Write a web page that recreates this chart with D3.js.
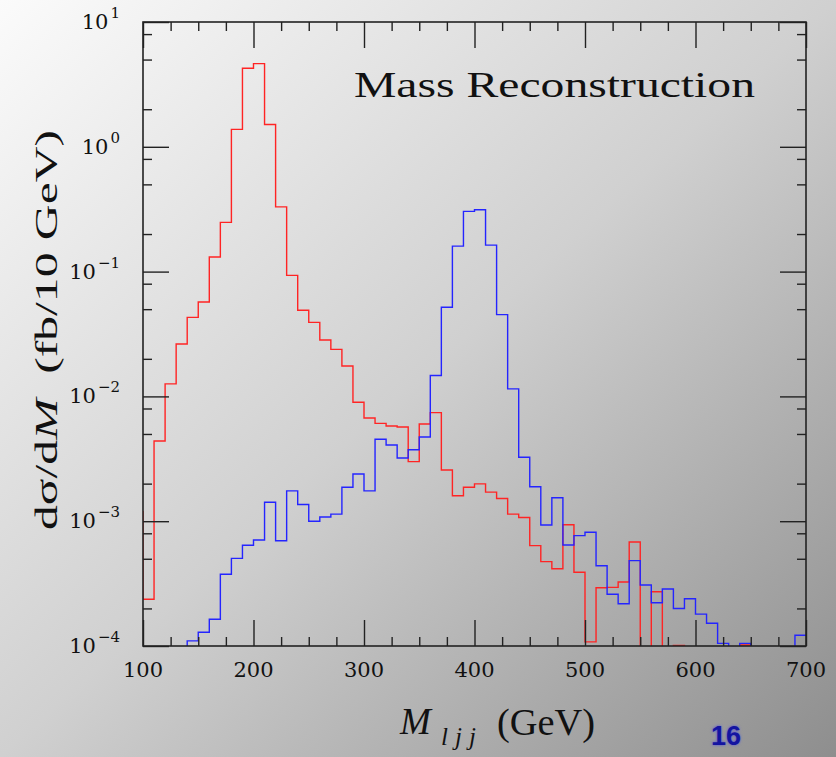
<!DOCTYPE html>
<html>
<head>
<meta charset="utf-8">
<script src="https://cdn.jsdelivr.net/npm/d3@7/dist/d3.min.js"></script>
<style>
  body { margin: 0; }
  svg { display: block; }
  text { font-family: "Liberation Serif", "DejaVu Serif", serif; fill: #111; }
  .num { font-family: "DejaVu Serif", "Liberation Serif", serif; }
</style>
</head>
<body>
<svg width="836" height="757"></svg>
<script>
// Lower edges of the 10 GeV bins (first one is the underflow bin left of the frame)
var binLow = [90, 100, 110, 120, 130, 140, 150, 160, 170, 180, 190, 200, 210, 220, 230,
  240, 250, 260, 270, 280, 290, 300, 310, 320, 330, 340, 350, 360, 370, 380, 390,
  400, 410, 420, 430, 440, 450, 460, 470, 480, 490, 500, 510, 520, 530, 540, 550,
  560, 570, 580, 590, 600, 610, 620, 630, 640, 650, 660, 670, 680, 690];

// red histogram (peak near 200 GeV)
var redValues = [1.19e-3, 2.37e-4, 4.39e-3, 1.26e-2, 2.63e-2, 4.30e-2, 5.71e-2, 0.131, 0.248,
  1.38, 4.26, 4.64, 1.51, 0.330, 0.0933, 0.0490, 0.0392, 0.0283, 0.0238, 0.0175,
  8.97e-3, 6.71e-3, 6.08e-3, 5.79e-3, 5.69e-3, 3.00e-3, 6.01e-3, 7.41e-3, 2.57e-3,
  1.60e-3, 1.87e-3, 1.99e-3, 1.71e-3, 1.52e-3, 1.14e-3, 1.07e-3, 6.37e-4, 4.74e-4,
  4.16e-4, 9.37e-4, 3.90e-4, 1.08e-4, 2.93e-4, 2.95e-4, 3.26e-4, 6.81e-4, 0,
  2.72e-4, 0, 1.01e-4, 0, 0, 0, 0, 0, 1.02e-4, 0, 0, 0, 0, 0];

// blue histogram (peak near 400 GeV)
var blueValues = [0, 0, 0, 0, 0, 1.10e-4, 1.29e-4, 1.64e-4, 3.76e-4, 5.04e-4, 6.41e-4,
  7.06e-4, 1.42e-3, 6.97e-4, 1.75e-3, 1.36e-3, 1.00e-3, 1.08e-3, 1.14e-3, 1.87e-3,
  2.39e-3, 1.75e-3, 4.53e-3, 4.08e-3, 3.21e-3, 3.74e-3, 4.73e-3, 1.47e-2, 0.0518,
  0.160, 0.304, 0.313, 0.163, 0.0452, 1.15e-2, 3.25e-3, 1.89e-3, 9.33e-4, 1.54e-3,
  6.44e-4, 7.66e-4, 8.15e-4, 4.40e-4, 2.60e-4, 2.18e-4, 4.83e-4, 3.08e-4, 2.22e-4,
  2.86e-4, 2.00e-4, 2.39e-4, 1.80e-4, 1.52e-4, 1.05e-4, 0, 1.05e-4, 0, 0, 0, 0, 1.22e-4];

var xMajorTicks = [100, 200, 300, 400, 500, 600, 700];
var xMinorTicks = [125, 150, 175, 225, 250, 275, 325, 350, 375, 425, 450, 475, 525, 550, 575, 625, 650, 675];
var yExponents = [-4, -3, -2, -1, 0, 1];
var yMinorMantissas = [2, 5, 8];

var svg = d3.select("svg");
var W = 836, H = 757;
var margin = { left: 143, top: 22 };
var width = 663, height = 624;

// page background: light top-left fading to grey bottom-right
var defs = svg.append("defs");
var grad = defs.append("linearGradient")
  .attr("id", "bg")
  .attr("x1", 0).attr("y1", 0).attr("x2", 1).attr("y2", 1);
grad.append("stop").attr("offset", 0).attr("stop-color", "#fbfbfb");
grad.append("stop").attr("offset", 0.5).attr("stop-color", "#d0d0d0");
grad.append("stop").attr("offset", 1).attr("stop-color", "#8e8e8e");

defs.append("clipPath").attr("id", "plotClip")
  .append("rect").attr("width", width).attr("height", height);

defs.append("filter").attr("id", "glow")
  .append("feGaussianBlur").attr("stdDeviation", 1.5);

svg.append("rect").attr("width", W).attr("height", H).attr("fill", "url(#bg)");

var g = svg.append("g")
  .attr("transform", "translate(" + margin.left + "," + margin.top + ")");

var x = d3.scaleLinear().domain([100, 700]).range([0, width]);
var y = d3.scaleLog().domain([1e-4, 10]).range([height, 0]);

// empty bins fall below the frame and get clipped
function yv(v) { return v > 0 ? y(v) : height + 20; }

function histPoints(values) {
  var pts = binLow.map(function(lo, i) { return [lo, values[i]]; });
  pts.push([binLow[binLow.length - 1] + 10, values[values.length - 1]]);
  return pts;
}

var line = d3.line()
  .x(function(d) { return x(d[0]); })
  .y(function(d) { return yv(d[1]); })
  .curve(d3.curveStepAfter);

var plot = g.append("g").attr("clip-path", "url(#plotClip)");

plot.append("path")
  .datum(histPoints(redValues))
  .attr("fill", "none")
  .attr("stroke", "#ff2424")
  .attr("stroke-width", 1.4)
  .attr("d", line);

plot.append("path")
  .datum(histPoints(blueValues))
  .attr("fill", "none")
  .attr("stroke", "#2424ff")
  .attr("stroke-width", 1.4)
  .attr("d", line);

// ticks on all four sides, pointing inward
var majorLen = 26, minorLen = 9;
var tickColor = "#222";

function addAxis(axis, transform) {
  var a = g.append("g").attr("transform", transform).call(axis);
  a.selectAll("line").attr("stroke", tickColor).attr("stroke-width", 1.4);
  a.select(".domain").remove();
  return a;
}

addAxis(d3.axisBottom(x).tickValues(xMajorTicks).tickSize(-majorLen).tickFormat(""), "translate(0," + height + ")");
addAxis(d3.axisBottom(x).tickValues(xMinorTicks).tickSize(-minorLen).tickFormat(""), "translate(0," + height + ")");
addAxis(d3.axisTop(x).tickValues(xMajorTicks).tickSize(-majorLen).tickFormat(""), "translate(0,0)");
addAxis(d3.axisTop(x).tickValues(xMinorTicks).tickSize(-minorLen).tickFormat(""), "translate(0,0)");

var yMajor = yExponents.map(function(e) { return Math.pow(10, e); });
var yMinor = [];
yExponents.slice(0, -1).forEach(function(e) {
  yMinorMantissas.forEach(function(m) { yMinor.push(m * Math.pow(10, e)); });
});

addAxis(d3.axisLeft(y).tickValues(yMajor).tickSize(-majorLen).tickFormat(""), "translate(0,0)");
addAxis(d3.axisLeft(y).tickValues(yMinor).tickSize(-minorLen).tickFormat(""), "translate(0,0)");
addAxis(d3.axisRight(y).tickValues(yMajor).tickSize(-majorLen).tickFormat(""), "translate(" + width + ",0)");
addAxis(d3.axisRight(y).tickValues(yMinor).tickSize(-minorLen).tickFormat(""), "translate(" + width + ",0)");

// frame
g.append("rect")
  .attr("width", width).attr("height", height)
  .attr("fill", "none")
  .attr("stroke", "#222")
  .attr("stroke-width", 1.6);

// x tick labels
g.selectAll(".xlab")
  .data(xMajorTicks)
  .enter().append("text")
  .attr("class", "xlab num")
  .attr("x", function(d) { return x(d); })
  .attr("y", height + 31)
  .attr("text-anchor", "middle")
  .attr("font-size", 21)
  .text(function(d) { return d; });

// y tick labels: 10 with superscript exponent
var ylab = g.selectAll(".ylab")
  .data(yExponents)
  .enter().append("text")
  .attr("class", "ylab num")
  .attr("text-anchor", "end")
  .attr("x", -23)
  .attr("y", function(d) { return y(Math.pow(10, d)) + 7; })
  .attr("font-size", 21);
ylab.append("tspan").text("10");
ylab.append("tspan")
  .attr("dx", 2)
  .attr("dy", -11)
  .attr("font-size", 15)
  .text(function(d) { return d < 0 ? "\u2212" + (-d) : d; });

// title inside the frame
svg.append("text")
  .attr("x", 354)
  .attr("y", 97)
  .attr("font-size", 36)
  .attr("textLength", 401)
  .attr("lengthAdjust", "spacingAndGlyphs")
  .text("Mass Reconstruction");

// y axis title
var yTitle = svg.append("text")
  .attr("transform", "translate(57,330) rotate(-90)")
  .attr("text-anchor", "middle")
  .attr("font-size", 31)
  .attr("textLength", 400)
  .attr("lengthAdjust", "spacingAndGlyphs");
yTitle.append("tspan").text("d\u03c3/d");
yTitle.append("tspan").attr("font-style", "italic").text("M");
yTitle.append("tspan").text("\u2002(fb/10 GeV)");

// x axis title
svg.append("text")
  .attr("x", 400).attr("y", 734)
  .attr("font-size", 37)
  .attr("font-style", "italic")
  .text("M");
svg.append("text")
  .attr("x", 441).attr("y", 745)
  .attr("font-size", 25)
  .attr("font-style", "italic")
  .attr("textLength", 35)
  .attr("lengthAdjust", "spacing")
  .text("ljj");
svg.append("text")
  .attr("x", 497).attr("y", 735)
  .attr("font-size", 37)
  .attr("textLength", 98)
  .attr("lengthAdjust", "spacingAndGlyphs")
  .text("(GeV)");

// page number
function pageNumber(fill, filter) {
  var t = svg.append("text")
    .attr("x", 726).attr("y", 745)
    .attr("text-anchor", "middle")
    .attr("font-weight", "bold")
    .attr("font-size", 27)
    .style("font-family", "'Liberation Sans', Arial, sans-serif")
    .style("fill", fill)
    .text("16");
  if (filter) t.attr("filter", filter);
}
pageNumber("#5050e0", "url(#glow)");
pageNumber("#1414a0", null);
</script>
</body>
</html>
